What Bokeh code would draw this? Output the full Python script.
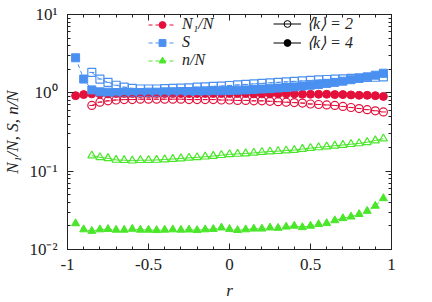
from bokeh.plotting import figure
from bokeh.models import (Range1d, FixedTicker, LogTicker, LinearAxis, LogAxis,
                          CustomJSTickFormatter, Legend, LegendItem, ColumnDataSource,
                          CustomLabelingPolicy)
from bokeh.embed import file_html
from bokeh.resources import INLINE

# ---------------- data ----------------
r_k4 = [-0.95, -0.9, -0.85, -0.8, -0.75, -0.7, -0.65, -0.6, -0.55, -0.5, -0.45, -0.4,
        -0.35, -0.3, -0.25, -0.2, -0.15, -0.1, -0.05, 0.0, 0.05, 0.1, 0.15, 0.2, 0.25,
        0.3, 0.35, 0.4, 0.45, 0.5, 0.55, 0.6, 0.65, 0.7, 0.75, 0.8, 0.85, 0.9, 0.95]
r_k2 = [-0.85, -0.8, -0.75, -0.7, -0.65, -0.6, -0.55, -0.5, -0.45, -0.4,
        -0.35, -0.3, -0.25, -0.2, -0.15, -0.1, -0.05, 0.0, 0.05, 0.1, 0.15, 0.2, 0.25,
        0.3, 0.35, 0.4, 0.45, 0.5, 0.55, 0.6, 0.65, 0.7, 0.75, 0.8, 0.85, 0.9, 0.95]

N1_k4 = [0.92, 0.95, 0.97, 0.97, 0.97, 0.98, 0.98, 0.98, 0.98, 0.98, 0.98, 0.98,
         0.98, 0.98, 0.98, 0.98, 0.98, 0.98, 0.98, 0.98, 0.98, 0.98, 0.97, 0.97, 0.97,
         0.97, 0.97, 0.97, 0.96, 0.96, 0.96, 0.96, 0.95, 0.95, 0.94, 0.93, 0.93, 0.92, 0.90]
S_k4 = [2.8, 1.5, 1.09, 1.03, 1.02, 1.01, 1.01, 1.01, 1.01, 1.02, 1.02, 1.03,
        1.03, 1.04, 1.04, 1.05, 1.05, 1.06, 1.06, 1.07, 1.08, 1.09, 1.10, 1.12, 1.13,
        1.15, 1.17, 1.19, 1.22, 1.25, 1.28, 1.32, 1.36, 1.41, 1.47, 1.53, 1.60, 1.68, 1.78]
n_k4 = [0.0215, 0.0180, 0.0172, 0.0180, 0.0182, 0.0178, 0.0178, 0.0183, 0.0178, 0.0178,
        0.0176, 0.0178, 0.0180, 0.0178, 0.0179, 0.0176, 0.0180, 0.0182, 0.0190, 0.0182,
        0.0176, 0.0180, 0.0184, 0.0184, 0.0190, 0.0188, 0.0195, 0.0200, 0.0192, 0.0200,
        0.0210, 0.0216, 0.0235, 0.0250, 0.0262, 0.0282, 0.0310, 0.0360, 0.0450]

N1_k2 = [0.69, 0.76, 0.79, 0.81, 0.82, 0.82, 0.83, 0.83, 0.83, 0.83,
         0.83, 0.83, 0.82, 0.82, 0.82, 0.82, 0.81, 0.81, 0.80, 0.80, 0.79, 0.79, 0.78,
         0.77, 0.76, 0.75, 0.74, 0.72, 0.71, 0.70, 0.69, 0.67, 0.65, 0.63, 0.61, 0.59, 0.57]
S_k2 = [1.82, 1.50, 1.36, 1.25, 1.18, 1.14, 1.12, 1.12, 1.12, 1.13,
        1.14, 1.15, 1.16, 1.18, 1.19, 1.21, 1.22, 1.24, 1.26, 1.28, 1.30, 1.32, 1.34,
        1.36, 1.38, 1.40, 1.42, 1.44, 1.46, 1.48, 1.50, 1.51, 1.53, 1.55, 1.57, 1.58, 1.60]
n_k2 = [0.158, 0.150, 0.146, 0.139, 0.138, 0.136, 0.138, 0.138, 0.139, 0.141,
        0.143, 0.145, 0.148, 0.150, 0.153, 0.156, 0.160, 0.164, 0.166, 0.168, 0.171, 0.175,
        0.178, 0.180, 0.183, 0.186, 0.192, 0.197, 0.201, 0.206, 0.211, 0.216, 0.221, 0.226,
        0.234, 0.246, 0.260]

x_ticks = [-1, -0.5, 0, 0.5, 1]
x_tick_labels = {-1: "-1", -0.5: "-0.5", 0: "0", 0.5: "0.5", 1: "1"}

RED = "#e3103c"
BLUE = "#4a90f0"
GREEN = "#4ae62a"
SERIF = "Liberation Serif"
AXC = "#222222"

p = figure(frame_width=324, frame_height=235, output_backend="svg", toolbar_location=None,
           y_axis_type="log", x_range=Range1d(-1, 1), y_range=Range1d(0.01, 10),
           min_border_left=61, min_border_right=31, min_border_top=8, min_border_bottom=43)
p.grid.visible = False
p.outline_line_color = AXC
p.background_fill_color = "white"

xax = p.xaxis[0]
yax = p.yaxis[0]

src4 = ColumnDataSource(dict(r=r_k4, N1=N1_k4, S=S_k4, n=n_k4))
src2 = ColumnDataSource(dict(r=r_k2, N1=N1_k2, S=S_k2, n=n_k2))

# connecting lines
l_S4 = p.line("r", "S", source=src4, color=BLUE, line_width=1, line_dash="4 3")
l_N4 = p.line("r", "N1", source=src4, color=RED, line_width=1, line_dash="4 3")
l_n4 = p.line("r", "n", source=src4, color=GREEN, line_width=1, line_dash="4 3")
p.line("r", "S", source=src2, color=BLUE, line_width=1, line_dash="4 3")
p.line("r", "N1", source=src2, color=RED, line_width=1, line_dash="4 3")
p.line("r", "n", source=src2, color=GREEN, line_width=1)

# k=4 filled
m_N4 = p.scatter("r", "N1", source=src4, marker="circle", size=8, color=RED)
m_S4 = p.scatter("r", "S", source=src4, marker="square", size=8, color=BLUE)
m_n4 = p.scatter("r", "n", source=src4, marker="triangle", size=8, color=GREEN)

# k=2 open
p.scatter("r", "N1", source=src2, marker="circle", size=8, fill_color=None,
          line_color=RED, line_width=1.2)
p.scatter("r", "N1", source=src2, marker="dash", size=5, line_color=RED, line_width=1)
p.scatter("r", "S", source=src2, marker="square", size=8, fill_color=None,
          line_color=BLUE, line_width=1.2)
p.scatter("r", "S", source=src2, marker="dash", size=5, line_color=BLUE, line_width=1)
p.scatter("r", "n", source=src2, marker="triangle", size=8, fill_color=None,
          line_color=GREEN, line_width=1.2)

# legend-only renderers (hidden in plot, shown in legend)
k_line = p.line("r", "N1", source=src2, color="black", line_width=1, visible=False)
k2_mark = p.scatter("r", "N1", source=src2, marker="circle", size=8, fill_color=None,
                    line_color="black", visible=False)
k4_mark = p.scatter("r", "N1", source=src4, marker="circle", size=8, color="black",
                    visible=False)

leg1 = Legend(items=[
    LegendItem(label="N\u2081/N", renderers=[l_N4, m_N4]),
    LegendItem(label="S", renderers=[l_S4, m_S4]),
    LegendItem(label="n/N", renderers=[l_n4, m_n4]),
], location=(81, 180))
leg2 = Legend(items=[
    LegendItem(label="\u27e8k\u27e9 = 2", renderers=[k_line, k2_mark]),
    LegendItem(label="\u27e8k\u27e9 = 4", renderers=[k_line, k4_mark]),
], location=(206, 197))
for lg in (leg1, leg2):
    lg.background_fill_alpha = 0
    lg.border_line_color = None
    lg.inactive_fill_alpha = 0
    lg.padding = 0
    lg.spacing = 0
    lg.margin = 0
    lg.label_height = 17
    lg.glyph_height = 17
    lg.glyph_width = 28
    lg.label_text_font = SERIF
    lg.label_text_font_style = "italic"
    lg.label_text_font_size = "16px"
    lg.label_text_color = AXC
    lg.label_standoff = 6
    p.add_layout(lg)

# axes
xt = FixedTicker(ticks=x_ticks, minor_ticks=[-0.9, -0.8, -0.7, -0.6, -0.4, -0.3, -0.2, -0.1,
                                             0.1, 0.2, 0.3, 0.4, 0.6, 0.7, 0.8, 0.9])
xax.ticker = xt
xax.major_label_overrides = x_tick_labels
yax.ticker = LogTicker(num_minor_ticks=10)
yax.formatter = CustomJSTickFormatter(code="""
const sup = {'-':'\u207b','0':'\u2070','1':'\u00b9','2':'\u00b2','3':'\u00b3'};
const e = Math.round(Math.log10(tick));
return '10' + String(e).split('').map(c => sup[c]).join('');
""")

no_labels = "for (const i of Array.from(indices)) { indices.unset(i) }\nreturn indices"
top = LinearAxis(ticker=xt, major_label_policy=CustomLabelingPolicy(code=no_labels))
right = LogAxis(ticker=LogTicker(num_minor_ticks=10),
                major_label_policy=CustomLabelingPolicy(code=no_labels))
p.add_layout(top, "above")
p.add_layout(right, "right")

for ax in (xax, yax, top, right):
    ax.major_tick_in = 6
    ax.major_tick_out = 0
    ax.minor_tick_in = 3
    ax.minor_tick_out = 0
    ax.axis_line_color = AXC
    ax.major_tick_line_color = AXC
    ax.minor_tick_line_color = AXC
    ax.major_label_text_font = SERIF
    ax.major_label_text_font_size = "17px"
    ax.major_label_text_color = AXC

for ax in (top, right):
    ax.major_label_standoff = 0

xax.major_label_standoff = 9
yax.major_label_standoff = 10
xax.axis_label = "r"
yax.axis_label = "N\u2081/N, S, n/N"
for ax in (xax, yax):
    ax.axis_label_text_font = SERIF
    ax.axis_label_text_font_style = "italic"
    ax.axis_label_text_font_size = "17px"
    ax.axis_label_text_color = AXC
xax.axis_label_standoff = 8
yax.axis_label_standoff = 4

open("out.html", "w").write(file_html(p, INLINE))
